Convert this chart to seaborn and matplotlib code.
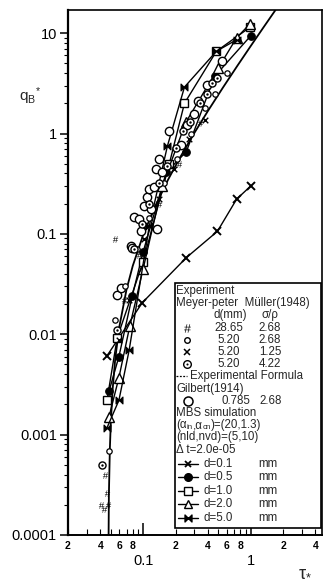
import matplotlib
matplotlib.use("Agg")
import matplotlib.pyplot as plt
import seaborn as sns
import numpy as np
import pandas as pd
from matplotlib.path import Path
from matplotlib.patches import Rectangle
from matplotlib.lines import Line2D
from matplotlib.ticker import FixedLocator, NullFormatter

# ---------------- data ----------------
# Meyer-Peter Muller (1948) experiments
mpm_tau = [0.0441, 0.0461, 0.0404, 0.0433, 0.047, 0.0548, 0.066, 0.092, 0.141, 0.217, 0.334]
mpm_q = [0.0004, 0.00026, 0.0002, 0.00018, 0.0002, 0.088, 0.022, 0.062, 0.2, 0.5, 1.26]

o52_tau = [0.048, 0.0548, 0.068, 0.088, 0.114, 0.157, 0.208, 0.28, 0.372, 0.461, 0.6]
o52_q = [0.00068, 0.0138, 0.03, 0.07, 0.145, 0.32, 0.56, 1.0, 1.78, 2.5, 4.0]

x52_tau = [0.0595, 0.074, 0.102, 0.141, 0.195, 0.269, 0.372]
x52_q = [0.0087, 0.022, 0.088, 0.222, 0.445, 0.89, 1.35]

od_tau = [0.0416, 0.0573, 0.082, 0.098, 0.114, 0.141, 0.168, 0.2, 0.236, 0.27, 0.334, 0.388, 0.44, 0.49]
od_q = [0.0005, 0.011, 0.07, 0.125, 0.2, 0.32, 0.47, 0.71, 1.05, 1.3, 2.0, 2.45, 3.2, 3.57]

# Gilbert (1914)
gil_tau = [0.0573, 0.0623, 0.077, 0.079, 0.0822, 0.0917, 0.0959, 0.102, 0.109, 0.114, 0.119,
           0.127, 0.132, 0.135, 0.141, 0.150, 0.175, 0.226, 0.258, 0.300, 0.32, 0.388, 0.536]
gil_q = [0.0247, 0.029, 0.075, 0.073, 0.146, 0.140, 0.106, 0.19, 0.232, 0.28, 0.176,
         0.29, 0.445, 0.111, 0.561, 0.415, 1.05, 0.77, 1.22, 1.55, 2.12, 3.05, 5.3]

# experimental formula curve
f_tau = [0.0472, 0.048, 0.049, 0.05, 0.052, 0.055, 0.06, 0.07, 0.08, 0.1, 0.13, 0.17,
         0.22, 0.3, 0.4, 0.55, 0.75, 1.0, 1.3, 1.7, 2.0]
f_q = [2.26e-5, 2.53e-4, 7.2e-4, 1.31e-3, 2.83e-3, 5.72e-3, 0.01186, 0.0279, 0.048, 0.0976,
       0.191, 0.345, 0.576, 1.018, 1.678, 2.854, 4.715, 7.44, 11.22, 17.0, 21.8]

# MBS simulation
d01_tau = [0.0461, 0.098, 0.252, 0.49, 0.74, 1.0]
d01_q = [0.0061, 0.0206, 0.058, 0.106, 0.222, 0.30]
d05_tau = [0.0481, 0.0595, 0.079, 0.1, 0.164, 0.252, 0.461, 1.0]
d05_q = [0.0027, 0.006, 0.0238, 0.0665, 0.41, 0.66, 3.7, 9.4]
d10_tau = [0.0461, 0.0573, 0.1, 0.175, 0.242, 0.48, 0.979]
d10_q = [0.0022, 0.0092, 0.053, 0.5, 2.0, 6.6, 11.4]
d20_tau = [0.0481, 0.0595, 0.075, 0.1, 0.15, 0.25, 0.5, 0.74, 0.98]
d20_q = [0.0015, 0.0037, 0.012, 0.045, 0.3, 1.3, 4.5, 9.0, 12.3]
d50_tau = [0.0461, 0.0595, 0.074, 0.114, 0.168, 0.242, 0.48, 0.74]
d50_q = [0.00117, 0.0022, 0.0069, 0.12, 0.75, 2.9, 6.6, 8.6]

y_ticks = [1e-4, 1e-3, 1e-2, 1e-1, 1, 10]
y_labels = ["0.0001", "0.001", "0.01", "0.1", "1", "10"]
x_major = [0.1, 1]
x_major_labels = ["0.1", "1"]

# ---------------- style ----------------
sns.set_theme(style="ticks")
plt.rcParams["font.family"] = ["Liberation Sans", "DejaVu Sans"]
plt.rcParams["mathtext.fontset"] = "custom"
plt.rcParams["mathtext.rm"] = "Liberation Sans"
plt.rcParams["mathtext.it"] = "Liberation Sans"
plt.rcParams["mathtext.bf"] = "Liberation Sans:bold"
plt.rcParams["axes.linewidth"] = 1.2

W, H = 326, 580
fig = plt.figure(figsize=(W / 100, H / 100), dpi=100)
ax = fig.add_axes([68 / W, 1 - 535 / H, 254 / W, 525 / H])
ax.set_xscale("log")
ax.set_yscale("log")

bowtie = Path([(-1, -1), (-1, 1), (1, -1), (1, 1), (-1, -1)],
              [Path.MOVETO, Path.LINETO, Path.LINETO, Path.LINETO, Path.CLOSEPOLY])

K = "black"
# formula
sns.lineplot(x=f_tau, y=f_q, ax=ax, sort=False, estimator=None, color=K, lw=1.3)

# MBS series
line_kw = dict(ax=ax, sort=False, estimator=None, color=K, lw=1.0)
sns.lineplot(x=d01_tau, y=d01_q, marker="x", markersize=5.5, mec=K, mew=1.4, **line_kw)
sns.lineplot(x=d05_tau, y=d05_q, marker="o", markersize=5.5, mfc=K, mec=K, **line_kw)
sns.lineplot(x=d10_tau, y=d10_q, marker="s", markersize=6, mfc="white", mec=K, mew=1.0, **line_kw)
sns.lineplot(x=d20_tau, y=d20_q, marker="^", markersize=6.5, mfc="white", mec=K, mew=1.0, **line_kw)
sns.lineplot(x=d50_tau, y=d50_q, marker=bowtie, markersize=5, mfc=K, mec=K, mew=0.8, **line_kw)

# experiments
sns.scatterplot(x=gil_tau, y=gil_q, ax=ax, marker="o", s=36, facecolor="white", edgecolor=K, linewidth=1.0, zorder=3)
sns.scatterplot(x=o52_tau, y=o52_q, ax=ax, marker="o", s=15, facecolor="white", edgecolor=K, linewidth=0.9, zorder=3)
sns.scatterplot(x=od_tau, y=od_q, ax=ax, marker="o", s=26, facecolor="white", edgecolor=K, linewidth=1.0, zorder=3)
sns.scatterplot(x=od_tau, y=od_q, ax=ax, marker="o", s=3, color=K, linewidth=0, zorder=3)
sns.scatterplot(x=x52_tau, y=x52_q, ax=ax, marker="x", s=16, color=K, linewidth=1.0, zorder=3)
sns.scatterplot(x=mpm_tau, y=mpm_q, ax=ax, marker="$\\#$", s=22, color=K, linewidth=0, zorder=3)

# ---------------- axes ----------------
ax.set_xlim(0.02, 4.6)
ax.set_ylim(1e-4, 17)
ax.set_xlabel("")
ax.set_ylabel("")

ax.yaxis.set_major_locator(FixedLocator(y_ticks))
ax.set_yticklabels(y_labels)
ymin = [m * 10.0 ** e for e in range(-4, 2) for m in range(2, 10) if m * 10.0 ** e < 17]
ax.yaxis.set_minor_locator(FixedLocator(ymin))
ax.yaxis.set_minor_formatter(NullFormatter())

ax.set_xticks(x_major)
ax.set_xticklabels(x_major_labels)
xmin = [m * 10.0 ** e for e in (-2, -1, 0) for m in range(2, 10) if m * 10.0 ** e <= 4.6]
def _mant(v):
    return int(round(v / 10.0 ** np.floor(np.log10(v))))
xmin_lab = [str(_mant(v)) if _mant(v) in (2, 4, 6, 8) else "" for v in xmin]
ax.set_xticks(xmin, minor=True)
ax.set_xticklabels(xmin_lab, minor=True, fontsize=7.5, fontweight="bold")

ax.tick_params(axis="y", which="major", direction="out", length=6, width=1.1, labelsize=10.5, pad=2, colors=K)
ax.tick_params(axis="y", which="minor", direction="out", length=3, width=0.8, colors=K)
ax.tick_params(axis="x", which="major", direction="in", length=9, width=1.1, labelsize=10.5, pad=14, colors=K)
ax.tick_params(axis="x", which="minor", direction="in", length=4, width=0.8, pad=4, colors=K)
for sp in ax.spines.values():
    sp.set_color(K)
ax.spines["left"].set_linewidth(1.6)
ax.spines["bottom"].set_linewidth(1.4)

# axis titles
fig.text(19 / W, 1 - 96 / H, r"$q_B{}^{*}$", fontsize=11, ha="left", va="center")
fig.text(298 / W, 1 - 571 / H, r"$\tau_{*}$", fontsize=13, ha="left", va="center")

# ---------------- legend box ----------------
def fx(px):
    return px / W

def fy(py):
    return 1 - py / H

fig.add_artist(Rectangle((fx(175), fy(528)), (321 - 175) / W, (528 - 283) / H,
                         transform=fig.transFigure, facecolor="white", edgecolor=K, lw=1.2, zorder=5))
FS = 8.3
def T(x, y, s, ha="left", fs=FS, **kw):
    return fig.text(fx(x), fy(y), s, fontsize=fs, ha=ha, va="center", zorder=6, **kw)

def M(x, y, **kw):
    fig.add_artist(Line2D([fx(x)], [fy(y)], transform=fig.transFigure, color=K, zorder=6, linestyle="none", **kw))

renderer = fig.canvas.get_renderer()

def seq(x, y, parts):
    # parts: list of (string, is_subscript); placed one after the other
    cur = x
    for s, sub in parts:
        if sub:
            t = fig.text(fx(cur), fy(y + 2.5), s, fontsize=FS * 0.7, ha="left", va="center", zorder=6)
        else:
            t = T(cur, y, s)
        cur += t.get_window_extent(renderer).width

step = 12.2
y0 = 291
r = [y0 + step * i for i in range(14)]
T(176, r[0], "Experiment")
T(176, r[1], "Meyer-peter  Müller(1948)")
T(230, r[2], "d(mm)", ha="center")
T(270, r[2], "σ/ρ", ha="center")
rows = [(r[3], "28.65", "2.68"), (r[4], "5.20", "2.68"), (r[5], "5.20", "1.25"), (r[6], "5.20", "4.22")]
for yy, a, b in rows:
    T(229, yy, a, ha="center")
    T(270, yy, b, ha="center")
M(187, r[3], marker="$\\#$", markersize=6, mew=0)
M(187, r[4], marker="o", markersize=4, mfc="white", mec=K, mew=1.0)
M(187, r[5], marker="x", markersize=4.5, mew=1.1)
M(187, r[6], marker="o", markersize=5.5, mfc="white", mec=K, mew=1.0)
M(187, r[6], marker="o", markersize=1.5, mfc=K, mec=K, mew=0)
fig.add_artist(Line2D([fx(176), fx(187)], [fy(r[7]), fy(r[7])], transform=fig.transFigure,
                      color=K, lw=0.9, ls=(0, (1.5, 1.2)), zorder=6))
T(190, r[7], "Experimental Formula")
T(176, r[8], "Gilbert(1914)")
M(188, r[9], marker="o", markersize=6.5, mfc="white", mec=K, mew=1.1)
T(236, r[9], "0.785", ha="center")
T(271, r[9], "2.68", ha="center")
T(176, r[10], "MBS simulation")
seq(176, r[11], [("(α", False), ("in", True), (",α", False), ("cn", True), (")=(20,1.3)", False)])
T(176, r[12], "(nld,nvd)=(5,10)")
T(176, r[13], "Δ t=2.0e-05")

leg = [
    ("d=0.1", dict(marker="x", markersize=5, mew=1.3)),
    ("d=0.5", dict(marker="o", markersize=5.5, mfc=K, mec=K)),
    ("d=1.0", dict(marker="s", markersize=6, mfc="white", mec=K, mew=1.0)),
    ("d=2.0", dict(marker="^", markersize=6, mfc="white", mec=K, mew=1.0)),
    ("d=5.0", dict(marker=bowtie, markersize=5, mfc=K, mec=K)),
]
for i, (lab, mk) in enumerate(leg):
    yy = r[13] + 14 + 13.6 * i
    fig.add_artist(Line2D([fx(178), fx(188), fx(198)], [fy(yy)] * 3, transform=fig.transFigure,
                          color=K, lw=1.0, zorder=6, markevery=[1], **mk))
    T(203, yy, lab)
    T(258, yy, "mm")

fig.savefig("out.png", dpi=100)
